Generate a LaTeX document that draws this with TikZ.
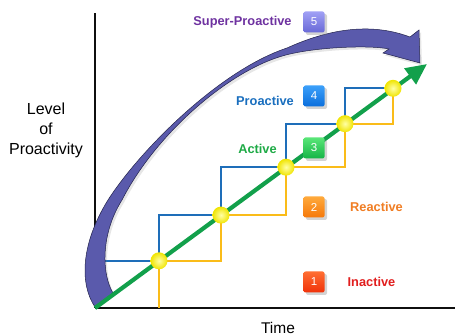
\documentclass[tikz,border=0pt]{standalone}
\usepackage{fontspec}
\setmainfont{Liberation Sans}
\usetikzlibrary{arrows.meta,shadows}

\definecolor{axisblack}{RGB}{15,15,15}
\definecolor{stepblue}{RGB}{30,110,185}
\definecolor{stepgold}{RGB}{250,188,25}
\definecolor{trendgreen}{RGB}{18,160,75}
\definecolor{arcfill}{RGB}{90,90,172}
\definecolor{arcedge}{RGB}{35,35,75}
\definecolor{superpurple}{RGB}{110,50,160}
\definecolor{problue}{RGB}{25,110,190}
\definecolor{actgreen}{RGB}{30,170,70}
\definecolor{reorange}{RGB}{240,125,35}
\definecolor{inred}{RGB}{225,30,30}

\tikzset{
  axisline/.style={draw=axisblack, line width=2.4pt},
  bluestep/.style={draw=stepblue, line width=2pt},
  goldstep/.style={draw=stepgold, line width=2pt},
  trend/.style={draw=trendgreen, line width=4.2pt,
    -{Triangle[length=21pt,width=19pt]}},
  dot/.style={circle, minimum size=17pt, inner sep=0pt,
    inner color=yellow!35!white, outer color={rgb,255:red,240;green,228;blue,0}},
  arcstyle/.style={fill=arcfill, draw=arcedge, line width=0.5pt,
    drop shadow={opacity=0.2, shadow xshift=2pt, shadow yshift=-2.5pt}},
  axislabel/.style={font=\fontsize{16}{20}\selectfont, align=center},
  levellabel/.style={font=\bfseries\fontsize{12.8}{14}\selectfont},
  levelbox/.style={rounded corners=2pt, minimum size=21pt, inner sep=0pt,
    text=white, font=\fontsize{11.5}{12}\selectfont,
    drop shadow={opacity=0.35, shadow xshift=2.5pt, shadow yshift=-2.5pt}},
}

\begin{document}
\begin{tikzpicture}[x=1pt,y=-1pt]
\useasboundingbox (0,0) rectangle (455,336);

% axes
\coordinate (o) at (95,308);
\coordinate (ytop) at (95,13);
\coordinate (xend) at (455,308);
\draw[axisline, line width=2pt] (o) -- (ytop);
\draw[axisline, line width=2.8pt] (o) -- (xend);

% milestones along the trend
\coordinate (d1pos) at (159,260.8);
\coordinate (d2pos) at (221,215.1);
\coordinate (d3pos) at (286,167.2);
\coordinate (d4pos) at (345,123.7);
\coordinate (d5pos) at (393,88.3);
\coordinate (bstart) at (105,260.8);
\coordinate (ystart) at (159,308);

% staircases above and below the trend
\draw[bluestep] (bstart) -- (d1pos) |- (d2pos) |- (d3pos) |- (d4pos) |- (d5pos);
\draw[goldstep] (ystart) -- (d1pos) -| (d2pos) -| (d3pos) -| (d4pos) -| (d5pos);

% sweeping curved arrow: thick at the foot, thin in the middle, thick at the head
\path[arcstyle] (95,307) .. controls (80,285) and (80,245) .. (108,200)
  .. controls (140,150) and (220,70) .. (287,48)
  .. controls (320,33) and (365,20) .. (410,37)
  -- (419,30) -- (420,63) -- (383,53) -- (389,49)
  .. controls (370,45) and (320,47) .. (290,54)
  .. controls (235,66) and (158,130) .. (122,200)
  .. controls (100,235) and (102,275) .. (113,293)
  -- cycle;

% trend line
\coordinate (tip) at (427,64);
\draw[trend] (o) -- (tip);

\node[dot] (d1) at (d1pos) {};
\node[dot] (d2) at (d2pos) {};
\node[dot] (d3) at (d3pos) {};
\node[dot] (d4) at (d4pos) {};
\node[dot] (d5) at (d5pos) {};

% axis titles
\node[axislabel] (ylab) at (46,130) {Level\\of\\Proactivity};
\node[axislabel, font=\fontsize{15.5}{18}\selectfont] (xlab) at (278,327.5) {Time};

% level markers
\node[levelbox, top color={rgb,255:red,160;green,160;blue,245}, bottom color={rgb,255:red,105;green,105;blue,215}] (b5) at (314,22) {5};
\node[levelbox, top color={rgb,255:red,60;green,160;blue,250}, bottom color={rgb,255:red,10;green,110;blue,220}] (b4) at (314,96) {4};
\node[levelbox, top color={rgb,255:red,90;green,230;blue,120}, bottom color={rgb,255:red,20;green,180;blue,70}] (b3) at (314,148) {3};
\node[levelbox, top color={rgb,255:red,255;green,170;blue,60}, bottom color={rgb,255:red,245;green,120;blue,10}] (b2) at (314,207) {2};
\node[levelbox, top color={rgb,255:red,255;green,110;blue,50}, bottom color={rgb,255:red,240;green,50;blue,10}] (b1) at (314,282) {1};

\node[levellabel, text=superpurple] (l5) at (242.5,22) {Super-Proactive};
\node[levellabel, text=problue] (l4) at (265,101) {Proactive};
\node[levellabel, text=actgreen] (l3) at (257.5,149) {Active};
\node[levellabel, text=reorange] (l2) at (376.5,207) {Reactive};
\node[levellabel, text=inred] (l1) at (371.5,282) {Inactive};
\end{tikzpicture}
\end{document}
